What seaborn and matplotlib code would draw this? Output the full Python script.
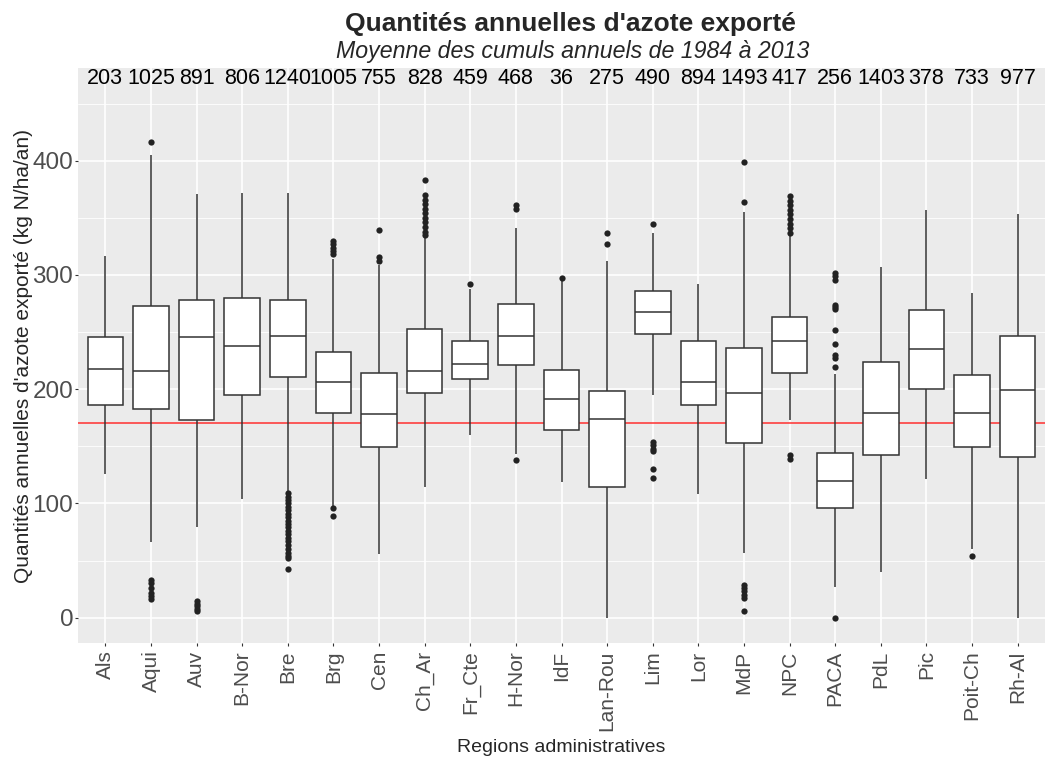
import pandas as pd
import numpy as np
import matplotlib.pyplot as plt
import seaborn as sns

# Données (statistiques des boîtes)
regions = ["Als", "Aqui", "Auv", "B-Nor", "Bre", "Brg", "Cen", "Ch_Ar", "Fr_Cte", "H-Nor",
           "IdF", "Lan-Rou", "Lim", "Lor", "MdP", "NPC", "PACA", "PdL", "Pic", "Poit-Ch", "Rh-Al"]
effectifs = [203, 1025, 891, 806, 1240, 1005, 755, 828, 459, 468,
             36, 275, 490, 894, 1493, 417, 256, 1403, 378, 733, 977]
moust_bas = [126, 66, 79, 104, 111, 97, 56, 114, 160, 143,
             119, 0, 195, 108, 57, 173, 27, 40, 121, 60, 0]
q1 = [186, 183, 173, 195, 211, 179, 149, 197, 209, 221,
      164, 114, 248, 186, 153, 214, 96, 142, 200, 149, 141]
mediane = [218, 216, 246, 238, 247, 206, 178, 216, 222, 247,
           191, 174, 268, 206, 197, 242, 120, 179, 235, 179, 199]
q3 = [246, 273, 278, 280, 278, 233, 214, 253, 242, 275,
      217, 198, 286, 242, 236, 263, 144, 224, 269, 212, 247]
moust_haut = [317, 405, 371, 372, 372, 314, 309, 334, 288, 341,
              295, 312, 337, 292, 355, 334, 213, 307, 357, 284, 353]
atypiques = {
    "Aqui": [416, 33, 30, 26, 22, 19, 16],
    "Auv": [15, 12, 10, 8, 6],
    "Bre": [109, 106, 103, 100, 97, 94, 91, 88, 85, 82, 79, 76, 73, 70, 67, 64, 60, 57, 54, 52, 43],
    "Brg": [330, 327, 324, 321, 318, 96, 89],
    "Cen": [339, 316, 312],
    "Ch_Ar": [383, 370, 366, 362, 358, 354, 350, 346, 342, 338, 335],
    "Fr_Cte": [292],
    "H-Nor": [361, 358, 138],
    "IdF": [297],
    "Lan-Rou": [337, 327],
    "Lim": [345, 154, 151, 148, 146, 130, 122],
    "MdP": [399, 364, 29, 26, 23, 20, 17, 6],
    "NPC": [369, 365, 361, 357, 353, 349, 345, 341, 337, 142, 139],
    "PACA": [302, 299, 296, 274, 272, 270, 252, 240, 230, 227, 219, 0],
    "Poit-Ch": [54],
}
seuil = 170

# Tableau long : 5 valeurs par région -> quartiles exacts avec whis=(0, 100)
boites = pd.DataFrame({
    "region": np.repeat(regions, 5),
    "valeur": np.column_stack([moust_bas, q1, mediane, q3, moust_haut]).ravel(),
})
points = pd.DataFrame([(r, v) for r, vals in atypiques.items() for v in vals],
                      columns=["region", "valeur"])

sns.set_theme(style="darkgrid", rc={"axes.facecolor": "#EBEBEB", "grid.color": "white"})
plt.rcParams["font.family"] = ["Liberation Sans", "DejaVu Sans"]

fig, ax = plt.subplots(figsize=(10.54, 7.58), dpi=100)
fig.subplots_adjust(left=0.074, right=0.9915, top=0.910, bottom=0.152)

sns.boxplot(data=boites, x="region", y="valeur", order=regions, whis=(0, 100),
            color="white", linecolor="#333333", linewidth=1.1, width=0.78,
            showfliers=False, showcaps=False, ax=ax)
sns.stripplot(data=points, x="region", y="valeur", order=regions, jitter=False,
              color="#222222", size=4.5, ax=ax)

ax.axhline(seuil, color="#FF3030", lw=1.1, zorder=1.5)

for i, n in enumerate(effectifs):
    ax.text(i, 472, str(n), ha="center", va="center", fontsize=15.5, color="black")

ax.set_xlim(-0.6, len(regions) - 0.4)
ax.set_ylim(-22, 481)
ax.set_yticks([0, 100, 200, 300, 400])
ax.set_yticks([50, 150, 250, 350, 450], minor=True)
ax.grid(which="major", color="white", lw=1.2)
ax.grid(which="minor", axis="y", color="white", lw=0.6)
ax.tick_params(axis="both", which="major", length=2.5, width=0.8, color="#333333",
               bottom=True, left=True)
ax.tick_params(axis="y", which="minor", length=0)
ax.tick_params(axis="y", labelsize=17.5, labelcolor="#4D4D4D", pad=1)
ax.tick_params(axis="x", labelsize=15, labelcolor="#4D4D4D", labelrotation=90, pad=3)
for s in ax.spines.values():
    s.set_visible(False)

ax.set_xlabel("Regions administratives", fontsize=14, labelpad=6)
ax.set_ylabel("Quantités annuelles d'azote exporté (kg N/ha/an)", fontsize=15)
ax.yaxis.set_label_coords(-0.047, 0.5)

fig.text(0.541, 0.968, "Quantités annuelles d'azote exporté", ha="center", va="center",
         fontsize=19, fontweight="bold")
fig.text(0.543, 0.932, "Moyenne des cumuls annuels de 1984 à 2013", ha="center", va="center",
         fontsize=16.7, fontstyle="italic")

fig.savefig("out.png", dpi=100)
